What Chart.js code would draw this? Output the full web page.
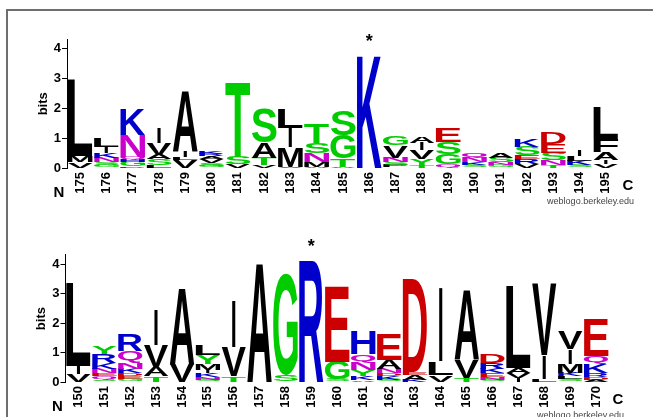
<!DOCTYPE html>
<html>
<head>
<meta charset="utf-8">
<script src="https://cdn.jsdelivr.net/npm/chart.js@4.4.1/dist/chart.umd.min.js"></script>
<style>
  html, body { margin: 0; padding: 0; background: #fff; overflow: hidden; }
  #frame { position: absolute; left: 6px; top: 9px; width: 660px; height: 420px;
           border-left: 2px solid #6e6e6e; border-top: 2px solid #6e6e6e; }
  canvas { position: absolute; left: 0; }
  #topLogo { top: 0; }
  #bottomLogo { top: 210px; }
</style>
</head>
<body>
<div id="frame"></div>
<canvas id="topLogo" width="653" height="210"></canvas>
<canvas id="bottomLogo" width="653" height="207"></canvas>
<script>
// positions, letters (bottom -> top) and their heights in bits
const topPositions = ["175","176","177","178","179","180","181","182","183","184","185",
                      "186","187","188","189","190","191","192","193","194","195"];
const topLetters = ["VML","GSNKIL","DGHQNK","LSAVI","VLIA","GSVARK","VST","VTAS","VMIL","AMNST","ATGS",
                    "K","PSNVG","TYVIA","QGSE","SKNQ","GNSA","VRESK","TNSED","SKLI","VIAFL"];
const topBits = [
  [0.2, 0.2, 2.58],
  [0.1, 0.1, 0.15, 0.15, 0.2, 0.3],
  [0.05, 0.15, 0.07, 0.1, 0.73, 0.85],
  [0.1, 0.2, 0.15, 0.4, 0.5],
  [0.28, 0.1, 0.2, 2.05],
  [0.08, 0.1, 0.12, 0.1, 0.07, 0.07],
  [0.12, 0.25, 2.5],
  [0.1, 0.25, 0.5, 1.13],
  [0.05, 0.65, 0.65, 0.62],
  [0.05, 0.15, 0.3, 0.35, 0.65],
  [0.05, 0.27, 0.78, 0.85],
  [3.78],
  [0.1, 0.1, 0.15, 0.4, 0.3],
  [0.1, 0.2, 0.3, 0.25, 0.2],
  [0.12, 0.35, 0.4, 0.45],
  [0.1, 0.1, 0.15, 0.15],
  [0.1, 0.1, 0.15, 0.15],
  [0.15, 0.15, 0.12, 0.3, 0.25],
  [0.1, 0.15, 0.25, 0.3, 0.37],
  [0.1, 0.15, 0.15, 0.2],
  [0.15, 0.12, 0.25, 0.45, 1.05]
];

const bottomPositions = ["150","151","152","153","154","155","156","157","158","159","160",
                         "161","162","163","164","165","166","167","168","169","170"];
const bottomLetters = ["VIL","SQENKRY","GEDKNQR","TAVI","VA","SNKIMYL","TVI","A","SG","R","SGE",
                       "AKYNQH","SKDNAE","KAED","VLI","TVA","SNEKRD","IVAL","LIV","SLKMIV","ADRKQE"];
const bottomBits = [
  [0.28, 0.25, 2.82],
  [0.07, 0.12, 0.1, 0.15, 0.2, 0.3, 0.25],
  [0.1, 0.1, 0.1, 0.15, 0.2, 0.4, 0.55],
  [0.2, 0.3, 0.75, 1.2],
  [0.6, 2.6],
  [0.08, 0.1, 0.12, 0.1, 0.2, 0.3, 0.35],
  [0.2, 0.98, 1.57],
  [4.08],
  [0.22, 3.44],
  [4.12],
  [0.08, 0.6, 2.57],
  [0.06, 0.14, 0.2, 0.25, 0.3, 0.8],
  [0.08, 0.12, 0.1, 0.15, 0.3, 0.85],
  [0.08, 0.15, 0.1, 3.17],
  [0.25, 0.45, 2.5],
  [0.15, 0.6, 2.37],
  [0.08, 0.1, 0.12, 0.15, 0.2, 0.3],
  [0.15, 0.15, 0.18, 2.77],
  [0.1, 0.8, 2.45],
  [0.1, 0.1, 0.12, 0.3, 0.5, 0.6],
  [0.08, 0.1, 0.12, 0.3, 0.28, 1.25]
];

const yTicks = [0, 1, 2, 3, 4];
const FONT = '"Liberation Sans", Arial, sans-serif';

function colorOf(ch) {
  if ("GSTYC".includes(ch)) return "#00cc00";
  if ("NQ".includes(ch)) return "#cc00cc";
  if ("KRH".includes(ch)) return "#0000cc";
  if ("DE".includes(ch)) return "#cc0000";
  return "#000000";
}

// stretch one glyph so that its ink fills the bar rectangle
function drawGlyph(ctx, ch, left, top, width, height) {
  ctx.save();
  ctx.font = "bold 100px " + FONT;
  ctx.textAlign = "left";
  ctx.textBaseline = "alphabetic";
  const m = ctx.measureText(ch);
  const gw = m.actualBoundingBoxLeft + m.actualBoundingBoxRight;
  const gh = m.actualBoundingBoxAscent + m.actualBoundingBoxDescent;
  let w = width, x = left;
  if (ch === "I") { w = width * 0.14; x = left + (width - w) / 2; }
  ctx.translate(x, top);
  ctx.scale(w / gw, height / gh);
  ctx.fillStyle = colorOf(ch);
  ctx.fillText(ch, m.actualBoundingBoxLeft, m.actualBoundingBoxAscent);
  ctx.restore();
}

const letterPlugin = {
  id: "logoLetters",
  afterDatasetsDraw(chart) {
    const ctx = chart.ctx;
    chart.data.datasets.forEach((ds, d) => {
      const meta = chart.getDatasetMeta(d);
      meta.data.forEach((bar, j) => {
        const ch = ds.letters[j];
        if (!ch) return;
        const p = bar.getProps(["x", "y", "base", "width"], true);
        const h = p.base - p.y;
        if (h < 0.4) return;
        drawGlyph(ctx, ch, p.x - p.width / 2, p.y, p.width, h);
      });
    });
  }
};

const extrasPlugin = {
  id: "logoExtras",
  afterDraw(chart, args, opts) {
    const ctx = chart.ctx;
    const { left, right, bottom } = chart.chartArea;
    const xs = chart.scales.x, ys = chart.scales.y;
    ctx.save();
    ctx.fillStyle = "#000";
    ctx.textAlign = "center";
    ctx.textBaseline = "middle";
    // bits
    ctx.save();
    ctx.translate(left - 24, ys.getPixelForValue(2.15));
    ctx.rotate(-Math.PI / 2);
    ctx.font = "bold 13px " + FONT;
    ctx.fillText("bits", 0, 0);
    ctx.restore();
    ctx.font = "bold 15px " + FONT;
    ctx.fillText("N", left - 8, bottom + 25);
    ctx.fillText("C", right + 9, bottom + 18);
    // star over the marked column
    const total = opts.bits[opts.star].reduce((a, b) => a + b, 0);
    ctx.font = "bold 18px " + FONT;
    ctx.fillText("*", xs.getPixelForValue(opts.star), ys.getPixelForValue(total) - 13);
    ctx.font = "9px " + FONT;
    ctx.fillStyle = "#444";
    ctx.textAlign = "right";
    ctx.fillText("weblogo.berkeley.edu", right + 15, bottom + 34);
    ctx.restore();
  }
};

function makeLogo(id, positions, letters, bits, star, pad) {
  const layers = Math.max(...letters.map(s => s.length));
  const datasets = [];
  for (let i = 0; i < layers; i++) {
    datasets.push({
      data: bits.map(col => col[i] || 0),
      letters: letters.map(s => s[i] || ""),
      backgroundColor: "rgba(0,0,0,0)",
      borderWidth: 0,
      barPercentage: 0.95,
      categoryPercentage: 1
    });
  }
  new Chart(document.getElementById(id), {
    type: "bar",
    data: { labels: positions, datasets: datasets },
    plugins: [letterPlugin, extrasPlugin],
    options: {
      responsive: false,
      animation: false,
      layout: { padding: pad },
      plugins: {
        legend: { display: false },
        tooltip: { enabled: false },
        logoExtras: { star: star, bits: bits }
      },
      scales: {
        x: {
          stacked: true,
          afterFit: s => { s.height = 30; },
          grid: { display: false, drawTicks: false },
          border: { display: false },
          ticks: { minRotation: 90, maxRotation: 90, autoSkip: false, padding: 4, color: "#000",
                   font: { family: FONT, weight: "bold", size: 13 } }
        },
        y: {
          stacked: true,
          min: 0,
          max: 4.32,
          afterFit: s => { s.width = 32; },
          afterBuildTicks: s => { s.ticks = yTicks.map(v => ({ value: v })); },
          grid: { drawOnChartArea: false, drawTicks: true, tickLength: 5, color: "#000" },
          border: { display: true, color: "#000", width: 1 },
          ticks: { padding: 1, color: "#000", font: { family: FONT, weight: "bold", size: 13 } }
        }
      }
    }
  });
}

makeLogo("topLogo", topPositions, topLetters, topBits, 11, { left: 35, right: 34, top: 39, bottom: 12 });
makeLogo("bottomLogo", bottomPositions, bottomLetters, bottomBits, 9, { left: 33.5, right: 44, top: 44.6, bottom: 5 });
</script>
</body>
</html>
